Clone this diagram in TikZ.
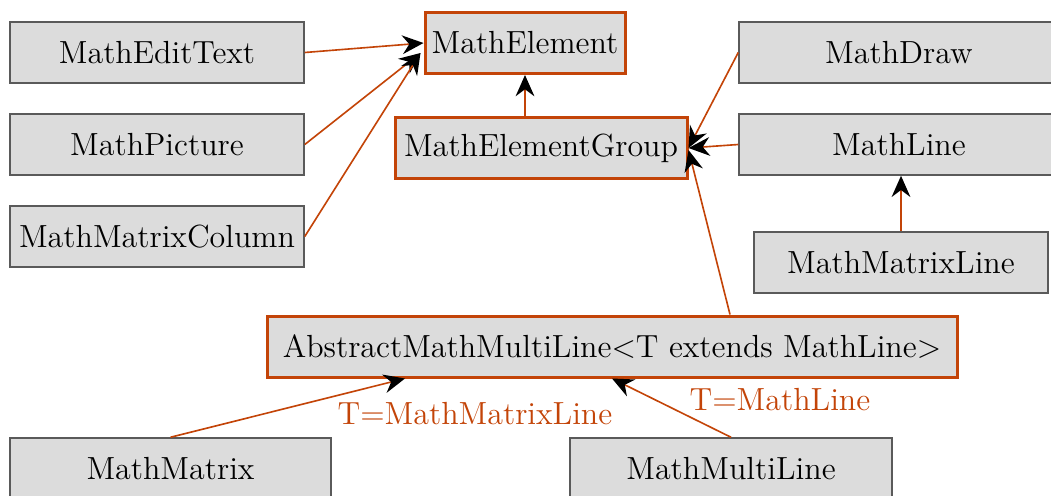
\documentclass[tikz,border=0pt]{standalone}
\usetikzlibrary{arrows.meta,calc}
\definecolor{edgeor}{RGB}{195,68,8}
\definecolor{boxfill}{RGB}{220,220,220}
\definecolor{boxline}{RGB}{90,90,90}
\tikzset{
  box/.style={draw=boxline, line width=0.6pt, fill=boxfill, inner sep=0pt, minimum height=24.4pt, text=black, font=\fontsize{12.8}{15.4}\selectfont},
  keybox/.style={box, draw=edgeor, line width=1.2pt},
  inh/.style={draw=edgeor, line width=0.65pt, -{Stealth[black, length=8.5pt, width=7.5pt, inset=2.8pt]}},
  lbl/.style={text=edgeor, inner sep=0pt, font=\fontsize{12.8}{15.4}\selectfont}
}
\begin{document}
\begin{tikzpicture}[x=0.4pt,y=-0.4pt]
\useasboundingbox (0,0) rectangle (1051,495);
\node[box, minimum width=117.6pt] (met) at (157,52.5) {MathEditText};
\node[box, minimum width=117.6pt] (mp) at (157,144.5) {MathPicture};
\node[box, minimum width=117.6pt] (mmc) at (157,236.5) {MathMatrixColumn};
\node[keybox, minimum width=80pt] (me) at (525,43) {MathElement};
\node[keybox, minimum width=116.8pt] (meg) at (541,148) {MathElementGroup};
\node[box, minimum width=128pt] (md) at (899,52.5) {MathDraw};
\node[box, minimum width=128pt] (ml) at (899,144.5) {MathLine};
\node[box, minimum width=117.6pt] (mml) at (901,262.5) {MathMatrixLine};
\node[keybox, minimum width=276pt] (amml) at (612,346.5) {AbstractMathMultiLine<T extends MathLine>};
\node[box, minimum width=128.4pt] (mm) at (170.5,468.5) {MathMatrix};
\node[box, minimum width=128.8pt] (mmul) at (731,468.5) {MathMultiLine};
\node[lbl] (l1) at (475,414) {T=MathMatrixLine};
\node[lbl] (l2) at (780,400) {T=MathLine};
\draw[inh] (met.east) -- (me.west);
\draw[inh] (mp.east) -- ($(me.west)+(-3,10)$);
\draw[inh] (mmc.east) -- ($(me.west)+(-3,10)$);
\draw[inh] (me.south |- meg.north) -- (me.south);
\draw[inh] (md.west) -- (meg.east);
\draw[inh] (ml.west) -- (meg.east);
\draw[inh] ($(amml.north)+(118,0)$) -- ($(meg.east)+(0,2)$);
\draw[inh] (mml.north) -- (mml.north |- ml.south);
\draw[inh] (mm.north) -- ($(amml.south)+(-207,0)$);
\draw[inh] (mmul.north) -- (amml.south);
\end{tikzpicture}
\end{document}
